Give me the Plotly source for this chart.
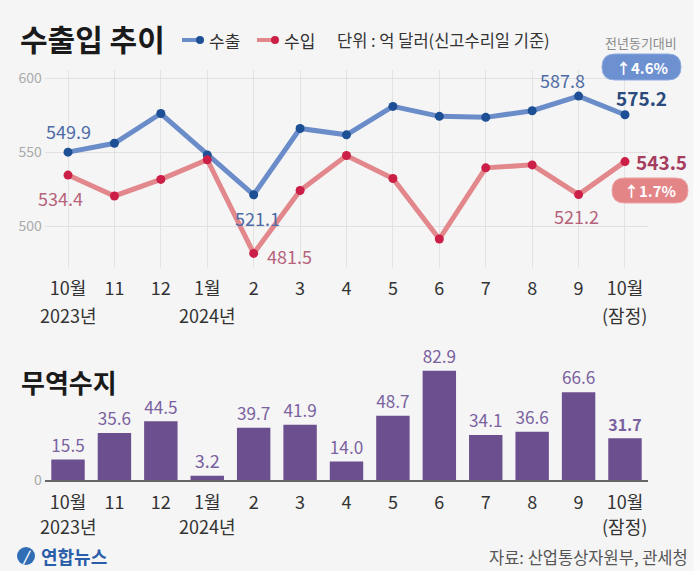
import plotly.graph_objects as go

# ---------------- data ----------------
months = ["10월", "11", "12", "1월", "2", "3", "4", "5", "6", "7", "8", "9", "10월"]
sub_labels = ["2023년", "", "", "2024년", "", "", "", "", "", "", "", "", "(잠정)"]
exports = [549.9, 555.9, 576.0, 548.0, 521.1, 565.9, 561.6, 580.8, 574.1, 573.4, 577.9, 587.8, 575.2]
imports = [534.4, 520.3, 531.5, 544.8, 481.5, 524.0, 547.6, 532.1, 491.2, 539.3, 541.3, 521.2, 543.5]
balance = [15.5, 35.6, 44.5, 3.2, 39.7, 41.9, 14.0, 48.7, 82.9, 34.1, 36.6, 66.6, 31.7]
top_ticks = [500, 550, 600]
export_yoy = "↑4.6%"
import_yoy = "↑1.7%"

W, H = 700, 571
FONT = "Noto Sans CJK KR"
BG = "#f5f5f5"
xs = list(range(len(months)))


def px(x):
    return x / W


def py(y):
    return 1 - y / H


def pill(x0, y0, x1, y1):
    r = (y1 - y0) / 2
    pts = [
        ("M", (x0 + r, y0)), ("L", (x1 - r, y0)), ("Q", (x1, y0), (x1, y0 + r)),
        ("Q", (x1, y1), (x1 - r, y1)), ("L", (x0 + r, y1)), ("Q", (x0, y1), (x0, y1 - r)),
        ("Q", (x0, y0), (x0 + r, y0)),
    ]
    s = ""
    for p in pts:
        cmd = p[0]
        coords = " ".join(f"{px(a):.5f},{py(b):.5f}" for a, b in p[1:])
        s += f"{cmd} {coords} "
    return s + "Z"


fig = go.Figure()

EXP_LINE, EXP_DOT = "#6a8cc8", "#1c4f94"
IMP_LINE, IMP_DOT = "#e2878c", "#cc1f47"

fig.add_trace(go.Scatter(x=xs, y=exports, mode="lines+markers", xaxis="x", yaxis="y",
                         line=dict(color=EXP_LINE, width=5),
                         marker=dict(color=EXP_DOT, size=9), cliponaxis=False, showlegend=False))
fig.add_trace(go.Scatter(x=xs, y=imports, mode="lines+markers", xaxis="x", yaxis="y",
                         line=dict(color=IMP_LINE, width=5),
                         marker=dict(color=IMP_DOT, size=9), cliponaxis=False, showlegend=False))

bar_text = [f"{v:.1f}" for v in balance]
bar_text[-1] = f"<b>{bar_text[-1]}</b>"
fig.add_trace(go.Bar(x=xs, y=balance, xaxis="x2", yaxis="y2", width=0.72,
                     marker=dict(color="#6b4f8e", line=dict(width=0)),
                     text=bar_text, textposition="outside", cliponaxis=False,
                     textfont=dict(color="#7a62a0", size=18, family=FONT), showlegend=False))

XDOM = [44.8 / W, 648.2 / W]
top_dom = [py(268), py(70)]
bot_dom = [py(480), py(360)]
top_rng = [600 - (268 - 78) / 1.48, 600 + (78 - 70) / 1.48]
bot_rng = [0, (480 - 360) / 1.318]

tickfont = dict(family=FONT, size=18, color="#333333")
fig.update_layout(
    width=W, height=H, margin=dict(l=0, r=0, t=0, b=0),
    paper_bgcolor=BG, plot_bgcolor=BG, font=dict(family=FONT),
    xaxis=dict(domain=XDOM, range=[-0.5, 12.5], tickvals=xs, ticktext=months, showgrid=True,
               gridcolor="#e2e2e2", gridwidth=1, zeroline=False, showline=False, ticks="",
               tickfont=tickfont, anchor="y", ticklabelstandoff=8, automargin=False),
    yaxis=dict(domain=top_dom, range=top_rng, tickvals=top_ticks, showgrid=True, gridcolor="#e0e0e0",
               zeroline=False, showline=False, ticks="", tickfont=dict(family=FONT, size=14, color="#aaaaaa"),
               anchor="x", ticklabelstandoff=2, automargin=False),
    xaxis2=dict(domain=XDOM, range=[-0.5, 12.5], tickvals=xs, ticktext=months, showgrid=False,
                zeroline=False, showline=True, linecolor="#666666", linewidth=1.5, ticks="",
                tickfont=tickfont, anchor="y2", ticklabelstandoff=6, automargin=False),
    yaxis2=dict(domain=bot_dom, range=bot_rng, tickvals=[0], showgrid=False, zeroline=False,
                showline=False, ticks="", tickfont=dict(family=FONT, size=14, color="#aaaaaa"),
                anchor="x2", ticklabelstandoff=2, automargin=False),
    bargap=0.28,
)

ann = []
shapes = []

# light strip at the right edge
shapes.append(dict(type="rect", xref="paper", yref="paper", x0=px(693), x1=1, y0=0, y1=1,
                   fillcolor="#fbfbfb", line=dict(width=0), layer="below"))

# second-line tick labels (year / provisional)
for i, s in enumerate(sub_labels):
    if not s:
        continue
    for yy in (315, 526):
        ann.append(dict(text=s, x=xs[i], y=py(yy), xref="x", yref="paper", xanchor="center",
                        yanchor="middle", showarrow=False, font=tickfont))

# titles
ann.append(dict(text="<b>수출입 추이</b>", x=px(18), y=py(38), xref="paper", yref="paper",
                xanchor="left", yanchor="middle", showarrow=False, font=dict(size=30, color="#1a1a1a", family=FONT)))
ann.append(dict(text="<b>무역수지</b>", x=px(19), y=py(381), xref="paper", yref="paper",
                xanchor="left", yanchor="middle", showarrow=False, font=dict(size=26, color="#1a1a1a", family=FONT)))

# legend
for (lx0, lx1, col, dot, label, tx) in [(182, 200, EXP_LINE, EXP_DOT, "수출", 207),
                                         (257, 275, IMP_LINE, IMP_DOT, "수입", 282)]:
    shapes.append(dict(type="line", xref="paper", yref="paper", x0=px(lx0), x1=px(lx1), y0=py(40), y1=py(40),
                       line=dict(color=col, width=4)))
    shapes.append(dict(type="circle", xref="paper", yref="paper", x0=px(lx1 - 4), x1=px(lx1 + 4),
                       y0=py(44), y1=py(36), fillcolor=dot, line=dict(width=0)))
    ann.append(dict(text=label, x=px(tx), y=py(40), xref="paper", yref="paper", xanchor="left",
                    yanchor="middle", showarrow=False, font=dict(size=17, color="#333333", family=FONT)))
ann.append(dict(text="단위 : 억 달러(신고수리일 기준)", x=px(335), y=py(40), xref="paper", yref="paper",
                xanchor="left", yanchor="middle", showarrow=False, font=dict(size=16.5, color="#333333", family=FONT)))

# yoy badges
ann.append(dict(text="전년동기대비", x=px(641), y=py(42), xref="paper", yref="paper", xanchor="center",
                yanchor="middle", showarrow=False, font=dict(size=13, color="#8a8a8a", family=FONT)))
shapes.append(dict(type="path", xref="paper", yref="paper", path=pill(602, 54, 681, 80),
                   fillcolor="#6c90d0", line=dict(color="#8fabe0", width=1)))
ann.append(dict(text=f"<b>{export_yoy}</b>", x=px(641.5), y=py(67), xref="paper", yref="paper",
                xanchor="center", yanchor="middle", showarrow=False, font=dict(size=15, color="white", family=FONT)))
shapes.append(dict(type="path", xref="paper", yref="paper", path=pill(612, 178, 688, 203),
                   fillcolor="#e38587", line=dict(color="#eea3a5", width=1)))
ann.append(dict(text=f"<b>{import_yoy}</b>", x=px(650), y=py(190.5), xref="paper", yref="paper",
                xanchor="center", yanchor="middle", showarrow=False, font=dict(size=15, color="white", family=FONT)))

# value labels on the line chart
EXP_TXT, IMP_TXT = "#4d6ca6", "#b5637b"
lab = [
    (exports, 0, 0, 21, EXP_TXT, False, "center"),
    (imports, 0, -8, -23, IMP_TXT, False, "center"),
    (exports, 4, 4, -23, EXP_TXT, False, "center"),
    (imports, 4, 11, -3, IMP_TXT, False, "left"),
    (exports, 11, -16, 16, EXP_TXT, False, "center"),
    (exports, 12, 17, 17, "#2b4a7e", True, "center"),
    (imports, 12, 9, 0, "#a63d5e", True, "left"),
    (imports, 11, -2, -21, IMP_TXT, False, "center"),
]
for series, i, dx, dy, col, bold, xa in lab:
    t = f"{series[i]:.1f}"
    if bold:
        t = f"<b>{t}</b>"
    ann.append(dict(text=t, x=xs[i], y=series[i], xref="x", yref="y", xanchor=xa, yanchor="middle",
                    xshift=dx, yshift=dy, showarrow=False,
                    font=dict(size=19 if bold else 18, color=col, family=FONT)))

# footer
shapes.append(dict(type="circle", xref="paper", yref="paper", x0=px(17), x1=px(35), y0=py(565), y1=py(547),
                   fillcolor="#2f6db5", line=dict(width=0)))
ann.append(dict(text="<b><i>/</i></b>", x=px(26), y=py(556), xref="paper", yref="paper", xanchor="center",
                yanchor="middle", showarrow=False, font=dict(size=14, color="white", family=FONT)))
ann.append(dict(text="<b>연합뉴스</b>", x=px(39), y=py(556), xref="paper", yref="paper", xanchor="left",
                yanchor="middle", showarrow=False, font=dict(size=18, color="#2a5ea8", family=FONT)))
ann.append(dict(text="자료: 산업통상자원부, 관세청", x=px(690), y=py(557), xref="paper", yref="paper",
                xanchor="right", yanchor="middle", showarrow=False, font=dict(size=16.5, color="#555555", family=FONT)))

fig.update_layout(annotations=ann, shapes=shapes)
fig.write_html("out.html", config={"displayModeBar": False},
               post_script="document.body.style.margin='0';document.body.style.background='#f5f5f5';")
